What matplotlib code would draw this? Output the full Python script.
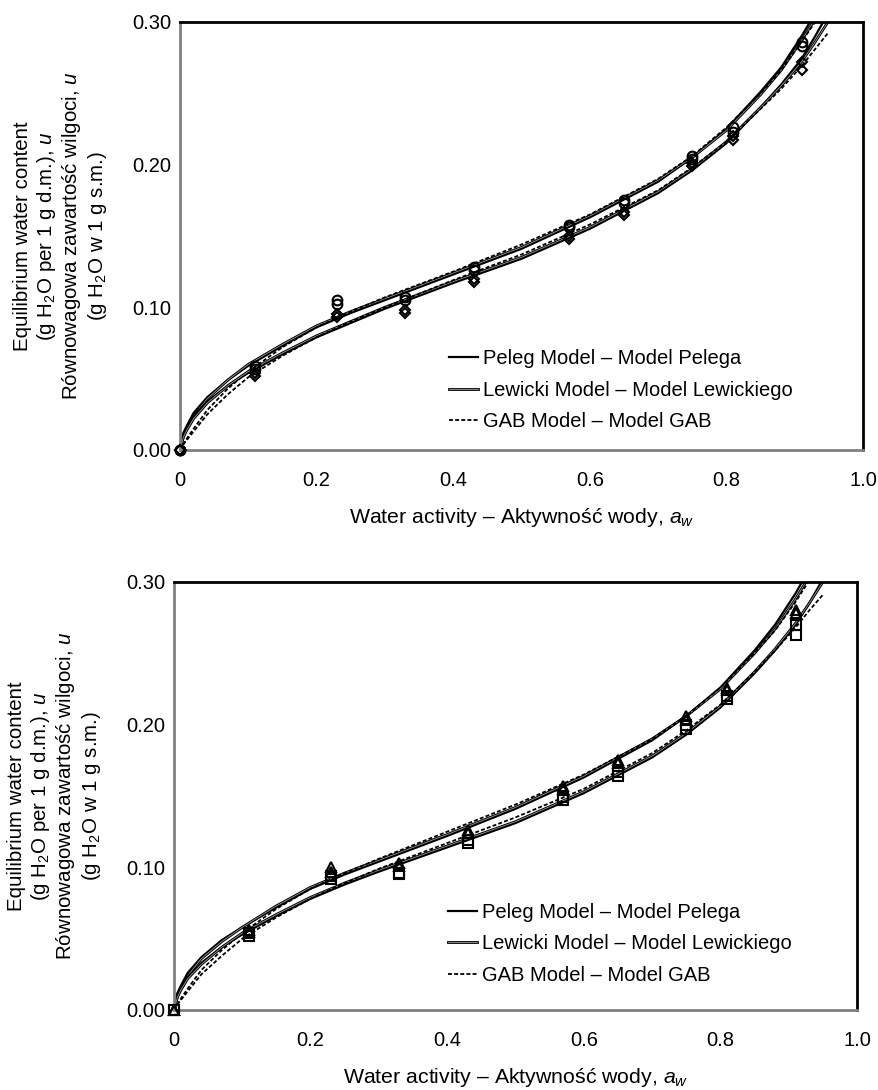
import matplotlib
matplotlib.use('Agg')
import matplotlib.pyplot as plt
import matplotlib.patheffects as pe

plt.rcParams['font.family'] = ['Liberation Sans', 'DejaVu Sans']
plt.rcParams['mathtext.fontset'] = 'custom'
plt.rcParams['mathtext.rm'] = 'Liberation Sans'
plt.rcParams['mathtext.it'] = 'Liberation Sans:italic'
plt.rcParams['font.size'] = 14.5

# punkty pomiarowe (aktywnosc wody)
aw_pts = [0, 0.11, 0.23, 0.33, 0.43, 0.57, 0.65, 0.75, 0.81, 0.91]

# wykres gorny
top_circles_a = [0, 0.059, 0.105, 0.107, 0.128, 0.158, 0.175, 0.206, 0.226, 0.286]
top_circles_b = [0, 0.057, 0.102, 0.105, 0.126, 0.156, 0.173, 0.204, 0.223, 0.283]
top_diamonds_a = [0, 0.054, 0.095, 0.098, 0.120, 0.150, 0.167, 0.201, 0.220, 0.272]
top_diamonds_b = [0, 0.052, 0.093, 0.096, 0.118, 0.148, 0.165, 0.199, 0.217, 0.266]

# wykres dolny
bot_triangles_a = [0, 0.056, 0.100, 0.103, 0.126, 0.157, 0.175, 0.206, 0.226, 0.280]
bot_triangles_b = [0, 0.055, 0.097, 0.101, 0.124, 0.155, 0.173, 0.203, 0.224, 0.278]
bot_squares_a = [0, 0.054, 0.094, 0.096, 0.119, 0.149, 0.167, 0.200, 0.220, 0.270]
bot_squares_b = [0, 0.052, 0.092, 0.095, 0.117, 0.147, 0.164, 0.197, 0.218, 0.263]

# krzywe modeli
aw_fit = [0, 0.005, 0.01, 0.02, 0.04, 0.07, 0.1, 0.15, 0.2, 0.25, 0.3,
          0.4, 0.5, 0.6, 0.7, 0.75, 0.8, 0.85, 0.88, 0.91, 0.93, 0.95]

top_peleg_hi = [0, .012, .017, .026, .037, .049, .059, .073, .086, .096, .105,
                .123, .141, .163, .188, .205, .225, .251, .268, .290, .306, .325]
top_lewicki_hi = [0, .010, .015, .024, .036, .049, .060, .074, .087, .097, .106,
                  .124, .142, .164, .189, .205, .224, .249, .266, .287, .302, .318]
top_gab_hi = [0, .004, .008, .015, .028, .043, .055, .072, .086, .097, .107,
              .125, .144, .165, .190, .206, .226, .250, .266, .286, .300, .316]
top_peleg_lo = [0, .011, .016, .024, .034, .045, .054, .067, .079, .089, .099,
                .117, .134, .155, .180, .196, .215, .240, .256, .274, .290, .307]
top_lewicki_lo = [0, .009, .014, .022, .033, .045, .055, .068, .080, .090, .100,
                  .118, .135, .156, .181, .197, .216, .240, .255, .272, .286, .301]
top_gab_lo = [0, .004, .007, .013, .025, .039, .051, .066, .079, .090, .100,
              .119, .137, .158, .182, .198, .216, .239, .253, .269, .281, .293]

bot_peleg_hi = [0, .012, .017, .026, .037, .049, .058, .072, .085, .095, .104,
                .122, .141, .163, .189, .206, .226, .252, .270, .292, .309, .330]
bot_lewicki_hi = [0, .010, .015, .024, .036, .048, .058, .073, .086, .096, .105,
                  .123, .142, .164, .190, .206, .225, .250, .267, .288, .304, .320]
bot_gab_hi = [0, .004, .008, .015, .028, .042, .054, .071, .085, .096, .106,
              .125, .144, .165, .190, .206, .226, .250, .266, .286, .301, .317]
bot_peleg_lo = [0, .011, .016, .023, .033, .044, .053, .066, .078, .088, .097,
                .114, .131, .152, .177, .193, .212, .236, .252, .270, .285, .302]
bot_lewicki_lo = [0, .009, .014, .022, .032, .044, .054, .067, .079, .089, .098,
                  .115, .132, .153, .178, .194, .213, .237, .253, .271, .285, .300]
bot_gab_lo = [0, .004, .007, .013, .025, .038, .050, .065, .078, .089, .099,
              .117, .135, .155, .180, .196, .214, .237, .252, .268, .280, .291]

legend_labels = ['Peleg Model – Model Pelega',
                 'Lewicki Model – Model Lewickiego',
                 'GAB Model – Model GAB']
x_ticks = [0, 0.2, 0.4, 0.6, 0.8, 1.0]
x_ticklabels = ['0', '0.2', '0.4', '0.6', '0.8', '1.0']
y_ticks = [0, 0.1, 0.2, 0.3]
y_ticklabels = ['0.00', '0.10', '0.20', '0.30']

ylabel = ('Equilibrium water content\n(g H$_2$O per 1 g d.m.), $u$\n'
          'Równowagowa zawartość wilgoci, $u$\n(g H$_2$O w 1 g s.m.)')
xlabel = 'Water activity – Aktywność wody, $a_w$'

# Lewicki: cienka podwojna linia
lew_fx = [pe.Stroke(linewidth=2.0, foreground='black'), pe.Normal()]


def panel(ax, peleg, lewicki, gab, series, leg_pos):
    h = []
    for i in range(2):
        l1, = ax.plot(aw_fit, peleg[i], color='black', lw=1.6)
        l2, = ax.plot(aw_fit, lewicki[i], color='#9a9a9a', lw=0.6, path_effects=lew_fx)
        l3, = ax.plot(aw_fit, gab[i], color='black', lw=1.3, dashes=(2.2, 1.2))
        h = [l1, l2, l3]
    for vals, m, ms in series:
        ax.plot(aw_pts, vals, ls='none', marker=m, ms=ms, mfc='none', mec='black',
                mew=1.5, clip_on=False, zorder=5)
    ax.set_xlim(0, 1.0)
    ax.set_ylim(0, 0.30)
    ax.set_xticks(x_ticks)
    ax.set_xticklabels(x_ticklabels)
    ax.set_yticks(y_ticks)
    ax.set_yticklabels(y_ticklabels)
    ax.tick_params(axis='x', length=0, pad=15)
    ax.tick_params(axis='y', length=0, pad=6)
    for s in ['left', 'bottom']:
        ax.spines[s].set_color('#808080')
        ax.spines[s].set_linewidth(2)
    for s in ['top', 'right']:
        ax.spines[s].set_color('black')
        ax.spines[s].set_linewidth(2)
    ax.set_xlabel(xlabel, labelpad=12, fontsize=15.3)
    ax.set_ylabel(ylabel, labelpad=17, fontsize=14.8, linespacing=1.15)
    ax.legend(h, legend_labels, loc='upper left', bbox_to_anchor=leg_pos,
              frameon=False, borderpad=0, borderaxespad=0, handlelength=1.45,
              handletextpad=0.25, labelspacing=0.62)


fig = plt.figure(figsize=(8.79, 10.90), dpi=100)
ax1 = fig.add_axes([0.2048, 0.5872, 0.777, 0.3927])
ax2 = fig.add_axes([0.198, 0.0734, 0.777, 0.3927])

panel(ax1, [top_peleg_hi, top_peleg_lo], [top_lewicki_hi, top_lewicki_lo],
      [top_gab_hi, top_gab_lo],
      [(top_circles_a, 'o', 7), (top_circles_b, 'o', 7),
       (top_diamonds_a, 'D', 5.5), (top_diamonds_b, 'D', 5.5)],
      (0.394, 0.235))
panel(ax2, [bot_peleg_hi, bot_peleg_lo], [bot_lewicki_hi, bot_lewicki_lo],
      [bot_gab_hi, bot_gab_lo],
      [(bot_triangles_a, '^', 7.5), (bot_triangles_b, '^', 7.5),
       (bot_squares_a, 's', 6.5), (bot_squares_b, 's', 6.5)],
      (0.401, 0.250))

fig.savefig('out.png', dpi=100)
